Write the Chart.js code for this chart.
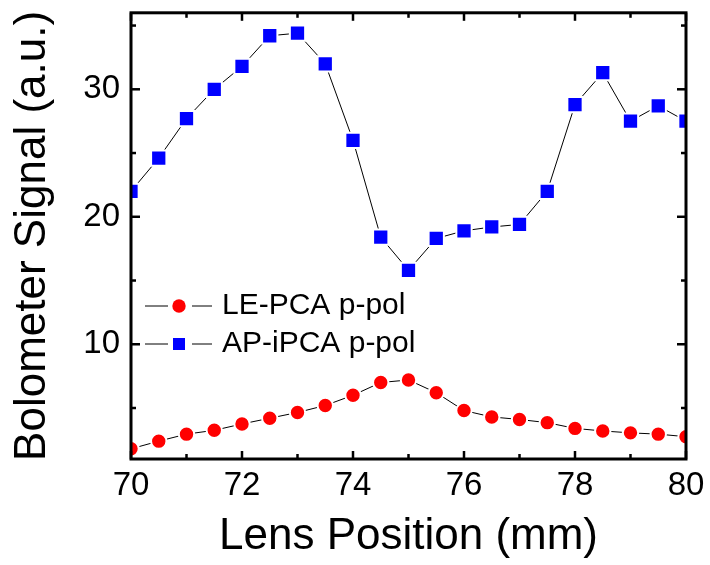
<!DOCTYPE html>
<html>
<head>
<meta charset="utf-8">
<title>Bolometer Signal vs Lens Position</title>
<script src="https://cdn.jsdelivr.net/npm/chart.js@4.4.1/dist/chart.umd.min.js"></script>
<style>
    html, body { margin: 0; padding: 0; background: #fff; }
    #chartBox { width: 710px; height: 565px; }
</style>
</head>
<body>
<div id="chartBox"><canvas id="signalChart" width="710" height="565"></canvas></div>
<script>
// Lens position (mm), one reading every 0.5 mm
const lensPositions = [70, 70.5, 71, 71.5, 72, 72.5, 73, 73.5, 74, 74.5, 75,
    75.5, 76, 76.5, 77, 77.5, 78, 78.5, 79, 79.5, 80];

// Bolometer signal (a.u.)
const lePcaSignal = [1.8, 2.4, 2.95, 3.25, 3.75, 4.2, 4.65, 5.2, 6.0, 7.0, 7.2,
    6.2, 4.8, 4.3, 4.1, 3.85, 3.4, 3.2, 3.05, 2.95, 2.75];
const apIpcaSignal = [22.0, 24.6, 27.7, 30.0, 31.8, 34.2, 34.4, 32.0, 26.0, 18.4, 15.8,
    18.3, 18.9, 19.2, 19.4, 22.0, 28.8, 31.3, 27.5, 28.7, 27.5];

// Axis ticks
const xMajorTicks = [70, 72, 74, 76, 78, 80];
const xMinorTicks = [71, 73, 75, 77, 79];
const yMajorTicks = [10, 20, 30];
const yMinorTicks = [5, 15, 25, 35];

const FONT = "'Liberation Sans', Arial, sans-serif";

// Closed frame with inward ticks on all four sides (Origin style)
const frameTicks = {
    id: 'frameTicks',
    afterDatasetsDraw(chart) {
        const { ctx, chartArea: a, scales } = chart;
        const tick = (x1, y1, x2, y2) => {
            ctx.beginPath();
            ctx.moveTo(x1, y1);
            ctx.lineTo(x2, y2);
            ctx.stroke();
        };
        ctx.save();
        ctx.strokeStyle = '#000';
        ctx.lineWidth = 2.5;
        xMajorTicks.concat(xMinorTicks).forEach(v => {
            const len = xMajorTicks.includes(v) ? 8 : 5;
            const x = scales.x.getPixelForValue(v);
            tick(x, a.bottom, x, a.bottom - len);
            tick(x, a.top, x, a.top + len);
        });
        yMajorTicks.concat(yMinorTicks).forEach(v => {
            const len = yMajorTicks.includes(v) ? 9 : 5;
            const y = scales.y.getPixelForValue(v);
            tick(a.left, y, a.left + len, y);
            tick(a.right, y, a.right - len, y);
        });
        ctx.lineWidth = 3;
        ctx.lineJoin = 'miter';
        ctx.strokeRect(a.left, a.top, a.right - a.left, a.bottom - a.top);
        ctx.restore();
    }
};

// Legend inside the plot: line - marker - line, then the label
const insetLegend = {
    id: 'insetLegend',
    afterDraw(chart) {
        const { ctx, chartArea: a } = chart;
        const rowY = [306, 344];
        chart.data.datasets.forEach((ds, i) => {
            const y = rowY[i];
            const x0 = a.left + 14;
            ctx.save();
            ctx.strokeStyle = '#000';
            ctx.lineWidth = 1;
            ctx.beginPath();
            ctx.moveTo(x0, y);
            ctx.lineTo(x0 + 23, y);
            ctx.moveTo(x0 + 47, y);
            ctx.lineTo(x0 + 67, y);
            ctx.stroke();
            ctx.fillStyle = ds.pointBackgroundColor;
            Chart.helpers.drawPoint(ctx, {
                pointStyle: ds.pointStyle,
                radius: ds.legendRadius,
                borderWidth: 0,
                rotation: 0
            }, x0 + 34, y);
            ctx.fillStyle = '#000';
            ctx.font = '30px ' + FONT;
            ctx.textAlign = 'left';
            ctx.textBaseline = 'middle';
            ctx.fillText(ds.label, x0 + 77, y);
            ctx.restore();
        });
    }
};

document.addEventListener('DOMContentLoaded', function() {
    const ctx = document.getElementById('signalChart');

    new Chart(ctx, {
        type: 'line',
        data: {
            datasets: [{
                label: 'LE-PCA p-pol',
                data: lensPositions.map((x, i) => ({ x: x, y: lePcaSignal[i] })),
                borderColor: '#000',
                borderWidth: 1,
                pointStyle: 'circle',
                pointRadius: 7.7,
                pointBackgroundColor: '#ff0000',
                pointBorderColor: '#ffffff',
                pointBorderWidth: 2,
                legendRadius: 6.7
            }, {
                label: 'AP-iPCA p-pol',
                data: lensPositions.map((x, i) => ({ x: x, y: apIpcaSignal[i] })),
                borderColor: '#000',
                borderWidth: 1,
                pointStyle: 'rect',
                pointRadius: 10.8,
                pointBackgroundColor: '#0000ff',
                pointBorderColor: '#ffffff',
                pointBorderWidth: 2,
                legendRadius: 8.5
            }]
        },
        options: {
            responsive: false,
            animation: false,
            events: [],
            layout: {
                padding: { top: 9, right: 24, bottom: 0, left: 0 }
            },
            plugins: {
                legend: { display: false },
                tooltip: { enabled: false }
            },
            scales: {
                x: {
                    type: 'linear',
                    min: 70,
                    max: 80,
                    grid: { display: false, drawTicks: false },
                    border: { display: false },
                    afterBuildTicks: scale => {
                        scale.ticks = xMajorTicks.map(v => ({ value: v }));
                    },
                    afterFit: scale => {
                        scale.height = 106;
                        scale.paddingLeft = 0;
                        scale.paddingRight = 0;
                    },
                    ticks: {
                        color: '#000',
                        padding: 7,
                        maxRotation: 0,
                        font: { family: FONT, size: 33 }
                    },
                    title: {
                        display: true,
                        text: 'Lens Position (mm)',
                        color: '#000',
                        padding: { top: 0, bottom: 2 },
                        font: { family: FONT, size: 44 }
                    }
                },
                y: {
                    type: 'linear',
                    min: 1,
                    max: 36,
                    grid: { display: false, drawTicks: false },
                    border: { display: false },
                    afterBuildTicks: scale => {
                        scale.ticks = yMajorTicks.map(v => ({ value: v }));
                    },
                    afterFit: scale => {
                        scale.width = 131;
                        scale.paddingTop = 0;
                        scale.paddingBottom = 0;
                    },
                    ticks: {
                        color: '#000',
                        padding: 11,
                        font: { family: FONT, size: 33 }
                    },
                    title: {
                        display: true,
                        text: 'Bolometer Signal (a.u.)',
                        color: '#000',
                        padding: { top: 6, bottom: 0 },
                        font: { family: FONT, size: 44 }
                    }
                }
            }
        },
        plugins: [frameTicks, insetLegend]
    });
});
</script>
</body>
</html>
